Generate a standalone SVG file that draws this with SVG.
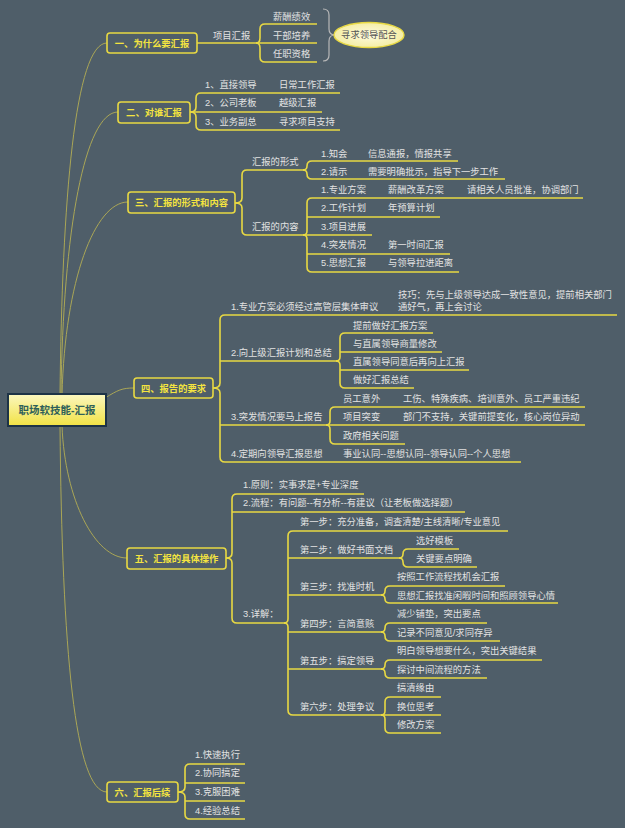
<svg xmlns="http://www.w3.org/2000/svg" width="625" height="828" viewBox="0 0 625 828">
<defs>
<linearGradient id="rootg" x1="0" y1="0" x2="0" y2="1">
<stop offset="0" stop-color="#fbf7c0"/>
<stop offset="1" stop-color="#f1e244"/>
</linearGradient>
<radialGradient id="ellg" cx="0.5" cy="0.5" r="0.6">
<stop offset="0" stop-color="#fdfbe0"/>
<stop offset="1" stop-color="#f3eb9a"/>
</radialGradient>
<style>
.t{font-family:"Liberation Sans","Noto Sans CJK SC",sans-serif;font-size:9.3px;fill:#e2e2e2}
.m{font-family:"Liberation Sans","Noto Sans CJK SC",sans-serif;font-size:9.3px;font-weight:bold;fill:#f4e440;text-anchor:middle}
.mb{fill:#4f5e69;stroke:#e8d943;stroke-width:1.6}
.c{fill:none;stroke:#e8d943;stroke-width:1.6}
.r{fill:none;stroke:#aaa656;stroke-width:1}
</style>
</defs>
<rect x="0" y="0" width="625" height="828" fill="#4f5e69"/>

<g id="connectors">
<path class="r" d="M60,395 C62,200 75,43 107,43"/>
<path class="r" d="M61,395 C63,230 85,112 118,112"/>
<path class="r" d="M62,395 C65,280 95,202 128,202"/>
<path class="r" d="M105,398 C118,390 122,388 134,388"/>
<path class="r" d="M62,426 C65,500 95,558 127,558"/>
<path class="r" d="M60,426 C62,650 75,792 107,792"/>

<path class="c" d="M197,43 L317,43"/>
<path class="c" d="M256,43 Q260,43 260,38 L260,29 Q260,24 265,24 L317,24"/>
<path class="c" d="M256,43 Q260,43 260,48 L260,57 Q260,62 265,62 L317,62"/>
<path d="M323,9 Q329,9 329,15 L329,29 Q329,35 335,35 Q329,35 329,41 L329,55 Q329,61 323,61" fill="none" stroke="#b8b8b8" stroke-width="1.2"/>

<path class="c" d="M190,112 Q196,112 196,107 L196,98 Q196,93 201,93 L340,93"/>
<path class="c" d="M190,112 L322,112"/>
<path class="c" d="M190,112 Q196,112 196,117 L196,125 Q196,130 201,130 L340,130"/>

<path class="c" d="M235,203 Q242,203 242,198 L242,175 Q242,170 247,170 L305,170"/>
<path class="c" d="M235,203 Q242,203 242,208 L242,230 Q242,235 247,235 L305,235"/>
<path class="c" d="M303,170 Q307,170 307,166 Q307,161 312,161 L458,161"/>
<path class="c" d="M303,170 Q307,170 307,174 Q307,179 312,179 L505,179"/>
<path class="c" d="M303,235 Q307,235 307,231 L307,203 Q307,198 312,198 L583,198"/>
<path class="c" d="M307,217 L440,217 M303,235 L372,235 M307,254 L450,254"/>
<path class="c" d="M303,235 Q307,235 307,239 L307,267 Q307,272 312,272 L459,272"/>

<path class="c" d="M213,388 Q220,388 220,383 L220,320 Q220,315 225,315 L617,315"/>
<path class="c" d="M220,361 L338,361 M220,425 L328,425"/>
<path class="c" d="M213,388 Q220,388 220,393 L220,457 Q220,462 225,462 L521,462"/>
<path class="c" d="M336,361 Q340,361 340,357 L340,338 Q340,333 345,333 L433,333"/>
<path class="c" d="M340,352 L442,352 M340,370 L469,370"/>
<path class="c" d="M336,361 Q340,361 340,365 L340,383 Q340,388 345,388 L414,388"/>
<path class="c" d="M326,425 Q330,425 330,421 L330,412 Q330,407 335,407 L585,407"/>
<path class="c" d="M326,425 L585,425"/>
<path class="c" d="M326,425 Q330,425 330,429 L330,439 Q330,444 335,444 L405,444"/>

<path class="c" d="M226,558 Q232,558 232,553 L232,499 Q232,494 237,494 L364,494"/>
<path class="c" d="M232,512 L465,512"/>
<path class="c" d="M226,558 Q232,558 232,563 L232,618 Q232,623 237,623 L286,623"/>
<path class="c" d="M284,623 Q288,623 288,619 L288,536 Q288,531 293,531 L508,531"/>
<path class="c" d="M288,558 L401,558 M288,595 L383,595 M288,632 L383,632 M288,669 L383,669"/>
<path class="c" d="M284,623 Q288,623 288,627 L288,710 Q288,715 293,715 L383,715"/>
<path class="c" d="M399,558 Q403,558 403,554 Q403,549 408,549 L459,549"/>
<path class="c" d="M399,558 Q403,558 403,562 Q403,567 408,567 L477,567"/>
<path class="c" d="M381,595 Q385,595 385,591 Q385,586 390,586 L505,586"/>
<path class="c" d="M381,595 Q385,595 385,599 Q385,603 390,603 L558,603"/>
<path class="c" d="M381,632 Q385,632 385,628 Q385,623 390,623 L487,623"/>
<path class="c" d="M381,632 Q385,632 385,636 Q385,641 390,641 L500,641"/>
<path class="c" d="M381,669 Q385,669 385,665 Q385,660 390,660 L542,660"/>
<path class="c" d="M381,669 Q385,669 385,673 Q385,678 390,678 L487,678"/>
<path class="c" d="M381,715 Q385,715 385,711 L385,702 Q385,697 390,697 L441,697"/>
<path class="c" d="M381,715 L441,715"/>
<path class="c" d="M381,715 Q385,715 385,719 L385,728 Q385,733 390,733 L441,733"/>

<path class="c" d="M178,792 Q185,792 185,787 L185,769 Q185,764 190,764 L245,764"/>
<path class="c" d="M185,783 L245,783 M185,801 L245,801"/>
<path class="c" d="M178,792 Q185,792 185,797 L185,814 Q185,819 190,819 L245,819"/>
</g>

<g id="root">
<rect x="8" y="394" width="98" height="32" fill="url(#rootg)" stroke="#1d3346" stroke-width="2"/>
<text x="57" y="414" style="font-family:'Liberation Sans','Noto Sans CJK SC',sans-serif;font-size:10.5px;font-weight:bold;fill:#2f5f5a;text-anchor:middle">职场软技能-汇报</text>
</g>

<g id="n1">
<rect class="mb" x="107" y="33" width="90" height="20" rx="3"/>
<text class="m" x="152" y="46.5">一、为什么要汇报</text>
<text class="t" x="213" y="38.5">项目汇报</text>
<text class="t" x="273" y="19.5">薪酬绩效</text>
<text class="t" x="273" y="38.5">干部培养</text>
<text class="t" x="273" y="56.5">任职资格</text>
<ellipse cx="369" cy="35" rx="35" ry="12.5" fill="url(#ellg)" stroke="#e8d943" stroke-width="1.4"/>
<text x="369" y="38.3" style="font-family:'Liberation Sans','Noto Sans CJK SC',sans-serif;font-size:9.3px;fill:#555555;text-anchor:middle">寻求领导配合</text>
</g>

<g id="n2">
<rect class="mb" x="118" y="102" width="72" height="21" rx="3"/>
<text class="m" x="154" y="115.8">二、对谁汇报</text>
<text class="t" x="205" y="88.3">1、直接领导</text>
<text class="t" x="279" y="88.3">日常工作汇报</text>
<text class="t" x="205" y="106.3">2、公司老板</text>
<text class="t" x="279" y="106.3">越级汇报</text>
<text class="t" x="205" y="125.3">3、业务副总</text>
<text class="t" x="279" y="125.3">寻求项目支持</text>
</g>

<g id="n3">
<rect class="mb" x="128" y="192" width="107" height="21" rx="3"/>
<text class="m" x="181.5" y="206">三、汇报的形式和内容</text>
<text class="t" x="252" y="165.3">汇报的形式</text>
<text class="t" x="252" y="230.3">汇报的内容</text>
<text class="t" x="321" y="156.6">1.知会</text>
<text class="t" x="368" y="156.6">信息通报，情报共享</text>
<text class="t" x="321" y="175">2.请示</text>
<text class="t" x="368" y="175">需要明确批示，指导下一步工作</text>
<text class="t" x="321" y="193.3">1.专业方案</text>
<text class="t" x="388" y="193.3">薪酬改革方案</text>
<text class="t" x="467" y="193.3">请相关人员批准，协调部门</text>
<text class="t" x="321" y="211.3">2.工作计划</text>
<text class="t" x="388" y="211.3">年预算计划</text>
<text class="t" x="321" y="230.3">3.项目进展</text>
<text class="t" x="321" y="248.3">4.突发情况</text>
<text class="t" x="388" y="248.3">第一时间汇报</text>
<text class="t" x="321" y="266.3">5.思想汇报</text>
<text class="t" x="388" y="266.3">与领导拉进距离</text>
</g>

<g id="n4">
<rect class="mb" x="134" y="378" width="79" height="20" rx="3"/>
<text class="m" x="173.5" y="391.5">四、报告的要求</text>
<text class="t" x="231" y="310.3">1.专业方案必须经过高管层集体审议</text>
<text class="t" x="398" y="298.3">技巧：先与上级领导达成一致性意见，提前相关部门</text>
<text class="t" x="398" y="309.8">通好气，再上会讨论</text>
<text class="t" x="231" y="356.3">2.向上级汇报计划和总结</text>
<text class="t" x="353" y="329.3">提前做好汇报方案</text>
<text class="t" x="353" y="347.3">与直属领导商量修改</text>
<text class="t" x="353" y="365.3">直属领导同意后再向上汇报</text>
<text class="t" x="353" y="383.3">做好汇报总结</text>
<text class="t" x="231" y="420.3">3.突发情况要马上报告</text>
<text class="t" x="343" y="402.3">员工意外</text>
<text class="t" x="403" y="402.3">工伤、特殊疾病、培训意外、员工严重违纪</text>
<text class="t" x="343" y="420.3">项目突变</text>
<text class="t" x="403" y="420.3">部门不支持，关键前提变化，核心岗位异动</text>
<text class="t" x="343" y="439.3">政府相关问题</text>
<text class="t" x="231" y="457.3">4.定期向领导汇报思想</text>
<text class="t" x="343" y="457.3">事业认同--思想认同--领导认同--个人思想</text>
</g>

<g id="n5">
<rect class="mb" x="127" y="548" width="99" height="21" rx="3"/>
<text class="m" x="176.5" y="561.8">五、汇报的具体操作</text>
<text class="t" x="243" y="488.3">1.原则：实事求是+专业深度</text>
<text class="t" x="243" y="506.3">2.流程：有问题--有分析--有建议（让老板做选择题）</text>
<text class="t" x="243" y="617.3">3.详解：</text>
<text class="t" x="300" y="525.3">第一步：充分准备，调查清楚/主线清晰/专业意见</text>
<text class="t" x="300" y="553.3">第二步：做好书面文档</text>
<text class="t" x="416" y="544.3">选好模板</text>
<text class="t" x="416" y="562.3">关键要点明确</text>
<text class="t" x="300" y="590.3">第三步：找准时机</text>
<text class="t" x="397" y="580.3">按照工作流程找机会汇报</text>
<text class="t" x="397" y="599.3">思想汇报找准闲暇时间和照顾领导心情</text>
<text class="t" x="300" y="627.3">第四步：言简意赅</text>
<text class="t" x="397" y="617.3">减少铺垫，突出要点</text>
<text class="t" x="397" y="636.3">记录不同意见/求同存异</text>
<text class="t" x="300" y="664.3">第五步：搞定领导</text>
<text class="t" x="397" y="654.3">明白领导想要什么，突出关键结果</text>
<text class="t" x="397" y="673.3">探讨中间流程的方法</text>
<text class="t" x="300" y="710.3">第六步：处理争议</text>
<text class="t" x="397" y="691.3">搞清缘由</text>
<text class="t" x="397" y="710.3">换位思考</text>
<text class="t" x="397" y="728.3">修改方案</text>
</g>

<g id="n6">
<rect class="mb" x="107" y="782" width="71" height="20" rx="3"/>
<text class="m" x="142.5" y="795.5">六、汇报后续</text>
<text class="t" x="195" y="758.3">1.快速执行</text>
<text class="t" x="195" y="776.3">2.协同搞定</text>
<text class="t" x="195" y="795.3">3.克服困难</text>
<text class="t" x="195" y="814.3">4.经验总结</text>
</g>
</svg>
